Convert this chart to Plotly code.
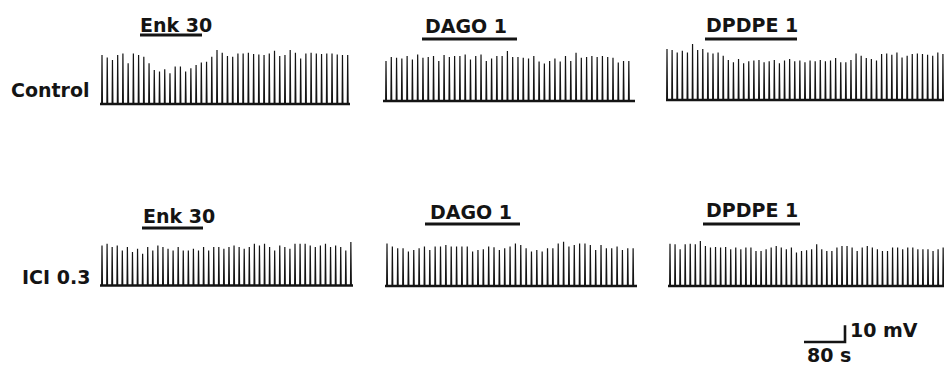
import plotly.graph_objects as go

# ---------------- data (spike amplitudes in mV, inter-spike interval in s) ----------------
row_labels = ["Control", "ICI 0.3"]
drug_labels = ["Enk 30", "DAGO 1", "DPDPE 1"]

ctrl_enk = [29.3, 27.9, 26.3, 29.3, 30.3, 24.4, 30.3, 29.3, 28.3, 24.4, 20.4, 19.4, 20.8, 18.4, 22.4, 22.4,
            19.4, 21.4, 23.4, 24.8, 25.3, 28.3, 32.3, 30.7, 28.7, 28.3, 30.3, 30.3, 30.7, 29.9, 29.7, 29.3,
            30.3, 31.9, 28.7, 29.3, 32.3, 30.7, 27.3, 30.3, 30.7, 30.3, 29.9, 30.3, 30.3, 29.7, 29.3, 29.3]
ctrl_dago = [24.0, 26.3, 25.9, 25.5, 26.9, 24.9, 27.9, 25.9, 26.3, 26.9, 24.0, 27.5, 26.3, 26.9, 26.9, 27.9,
             24.9, 26.9, 27.9, 24.0, 25.5, 26.9, 26.9, 29.9, 26.3, 26.3, 25.9, 25.5, 26.9, 23.6, 22.4, 24.0,
             25.5, 23.6, 26.9, 24.0, 28.9, 25.9, 26.3, 26.9, 26.3, 26.9, 26.3, 25.9, 23.0, 24.0, 24.0]
ctrl_dpdpe = [30.5, 29.9, 28.5, 29.5, 28.5, 33.5, 29.9, 30.5, 28.5, 27.9, 28.5, 26.5, 24.0, 22.6, 24.6, 22.0,
              23.2, 23.6, 24.0, 22.6, 23.2, 24.0, 22.0, 23.6, 24.6, 23.2, 23.6, 22.6, 23.6, 23.2, 24.0, 23.2,
              23.6, 25.1, 22.6, 22.6, 24.0, 27.9, 26.5, 25.1, 24.6, 23.6, 27.5, 27.9, 27.1, 28.5, 25.5, 26.5,
              27.5, 27.9, 27.5, 27.1, 26.5, 28.5, 27.5]
ici_enk = [24, 25, 23, 24, 21, 23, 20, 22, 19, 23, 21, 24, 23, 22, 21, 23, 21, 21, 22, 21, 23, 21, 23, 23, 22,
           23, 24, 23, 22, 23, 25, 24, 25, 23, 21, 24, 23, 22, 25, 25, 25, 24, 23, 24, 25, 23, 24, 23, 21, 26]
ici_dago = [25.5, 23.6, 22.6, 22.6, 20.6, 21.6, 22.6, 23.6, 21.6, 23.6, 23.6, 24.6, 23.6, 23.6, 23.6, 23.6,
            20.6, 21.6, 22.0, 23.6, 23.2, 21.6, 22.6, 23.6, 25.5, 24.6, 22.6, 20.6, 21.6, 20.6, 22.6, 22.6,
            25.5, 26.5, 23.6, 24.6, 25.5, 25.5, 24.6, 21.6, 24.6, 22.6, 22.6, 23.6, 21.6, 22.6, 22.6]
ici_dpdpe = [25.3, 25.0, 22.0, 25.0, 25.3, 25.0, 26.9, 24.0, 23.0, 23.4, 23.0, 23.4, 22.0, 23.0, 22.0, 23.0,
             23.0, 21.0, 21.0, 22.0, 23.0, 24.0, 23.0, 22.0, 23.0, 20.0, 21.0, 21.4, 22.0, 25.0, 22.0, 21.0,
             21.0, 23.0, 24.0, 24.0, 23.0, 21.0, 23.0, 24.0, 23.0, 22.0, 21.0, 21.0, 23.0, 23.0, 22.0, 23.0,
             23.0, 22.0, 22.0, 22.0, 21.0, 22.0, 23.0]

spikes = [[ctrl_enk, ctrl_dago, ctrl_dpdpe], [ici_enk, ici_dago, ici_dpdpe]]
isi_s = [[10.2, 10.3, 9.97], [9.91, 10.44, 9.87]]
scale_time_s = 80
scale_volt_mv = 10

# ---------------- layout (pixel placement) ----------------
W, H = 944, 367
PX_PER_S = 41 / 80.0
PX_PER_MV = 16.7 / 10.0

def sx(px):
    return px / PX_PER_S

def sy(py):
    return (H - py) / PX_PER_MV

seg_left = [[100, 383, 666], [100, 385, 668]]
seg_right = [[350, 635, 944], [353, 637, 944]]
first_spike = [[102, 386, 667], [102, 387, 670]]
base_py = [[104, 101, 100], [285.5, 286, 286]]
label_cx = [[176, 466, 752], [179, 471, 752]]
label_cy = [[25, 26, 25], [216, 212, 210]]
bar_x = [[(140, 202), (422, 517), (705, 797)], [(142, 203), (425, 520), (703, 800)]]
bar_y = [[35, 39, 39], [228, 224, 224]]
row_label_y = [90, 277]

INK = "#141414"
FONT = dict(family="DejaVu Sans", size=19, color=INK, weight="bold")

fig = go.Figure()
annotations = []
shapes = []

for r in range(2):
    for c in range(3):
        amps = spikes[r][c]
        base = sy(base_py[r][c])
        t0 = sx(first_spike[r][c])
        xs, ys = [], []
        for i, a in enumerate(amps):
            t = t0 + i * isi_s[r][c]
            xs += [t - 0.7, t, t + 0.9, None]
            ys += [base, base + a, base, None]
        # spikes
        fig.add_trace(go.Scatter(x=xs, y=ys, mode="lines",
                                 line=dict(color=INK, width=1.2), hoverinfo="skip"))
        # baseline
        fig.add_trace(go.Scatter(x=[sx(seg_left[r][c]), sx(seg_right[r][c])], y=[base, base],
                                 mode="lines", line=dict(color=INK, width=2.6), hoverinfo="skip"))
        # drug label + application bar
        annotations.append(dict(x=sx(label_cx[r][c]), y=sy(label_cy[r][c]), text=drug_labels[c],
                                showarrow=False, xanchor="center", yanchor="middle", font=FONT))
        x0, x1 = bar_x[r][c]
        shapes.append(dict(type="line", x0=sx(x0), x1=sx(x1), y0=sy(bar_y[r][c]), y1=sy(bar_y[r][c]),
                           line=dict(color=INK, width=3)))
    annotations.append(dict(x=sx(92), y=sy(row_label_y[r]), text=row_labels[r], showarrow=False,
                            xanchor="right", yanchor="middle", font=FONT))

# scale bars
corner_x, corner_y = sx(845), sy(342)
fig.add_trace(go.Scatter(x=[corner_x - scale_time_s, corner_x, corner_x],
                         y=[corner_y, corner_y, corner_y + scale_volt_mv],
                         mode="lines", line=dict(color=INK, width=2.6), hoverinfo="skip"))
annotations.append(dict(x=sx(848), y=sy(330), text=f"{scale_volt_mv} mV", showarrow=False,
                        xanchor="left", yanchor="middle", font=FONT))
annotations.append(dict(x=sx(805), y=sy(355), text=f"{scale_time_s} s", showarrow=False,
                        xanchor="left", yanchor="middle", font=FONT))

fig.update_layout(
    width=W, height=H, margin=dict(l=0, r=0, t=0, b=0),
    paper_bgcolor="white", plot_bgcolor="white", showlegend=False,
    annotations=annotations, shapes=shapes,
    xaxis=dict(range=[0, sx(W)], visible=False, fixedrange=True),
    yaxis=dict(range=[0, H / PX_PER_MV], visible=False, fixedrange=True),
)
fig.write_html("out.html", config={"displayModeBar": False},
               post_script="document.body.style.margin='0';document.body.style.overflow='hidden';")
